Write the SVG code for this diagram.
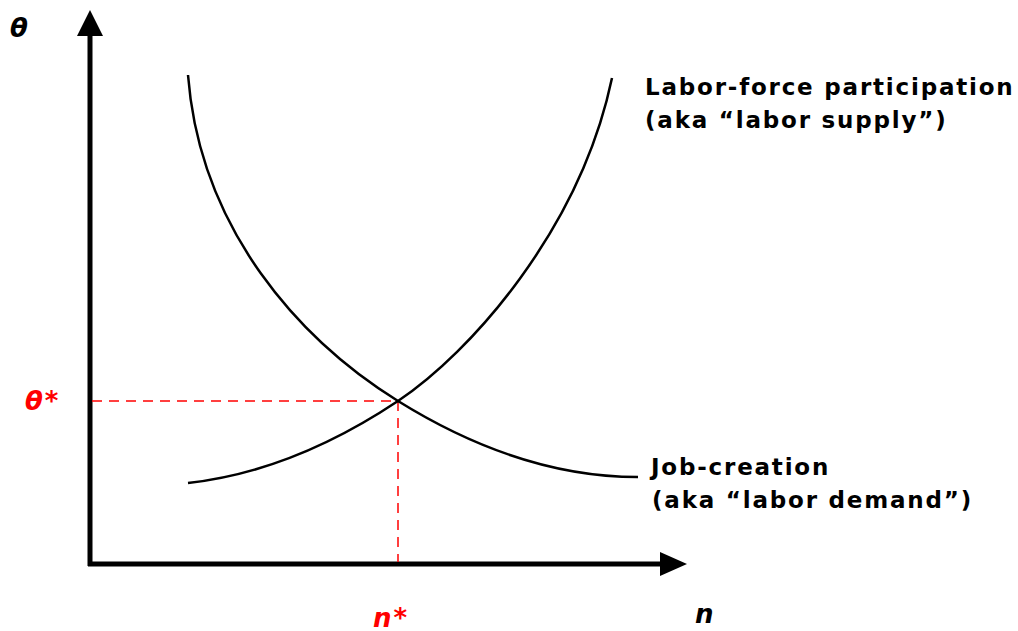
<svg xmlns="http://www.w3.org/2000/svg" width="1018" height="631" viewBox="0 0 1018 631">
<style>
.lbl{font-family:"DejaVu Sans","Liberation Sans",sans-serif;font-weight:bold;font-size:23px;letter-spacing:1.8px;fill:#000}
.ax{font-family:"DejaVu Sans","Liberation Sans",sans-serif;font-weight:bold;font-style:italic;font-size:26px;letter-spacing:2px}
.curve{fill:none;stroke:#000;stroke-width:2.5}
.dash{fill:none;stroke:#f00;stroke-width:1.5;stroke-dasharray:10 7}
.axis{fill:none;stroke:#000;stroke-width:5}
</style>
<rect width="1018" height="631" fill="#fff"/>
<g id="axes">
<line class="axis" x1="90" y1="566" x2="90" y2="34"/>
<polygon points="90,10 103,36 77,36" fill="#000"/>
<line class="axis" x1="88" y1="564" x2="662" y2="564"/>
<polygon points="687,564 660,552 660,576" fill="#000"/>
</g>
<g id="connectors">
<path class="dash" d="M92,401 H398"/>
<path class="dash" d="M398,401 V562"/>
</g>
<g id="job-creation">
<path class="curve" d="M188,75 C200,230 300,340 398,401 C480,452 560,477 638,477"/>
<text class="lbl" x="651" y="475">Job-creation</text>
<text class="lbl" x="652" y="508">(aka “labor demand”)</text>
</g>
<g id="labor-force">
<path class="curve" d="M188,483 C260,475 332,445 398,401 C470,353 580,230 612,78"/>
<text class="lbl" x="645" y="95">Labor-force participation</text>
<text class="lbl" x="645" y="128">(aka “labor supply”)</text>
</g>
<g id="labels">
<text class="ax" x="10" y="37">θ</text>
<text class="ax" x="25" y="410" fill="#f00">θ*</text>
<text class="ax" x="373" y="627" fill="#f00">n*</text>
<text class="ax" x="695" y="623">n</text>
</g>
</svg>
